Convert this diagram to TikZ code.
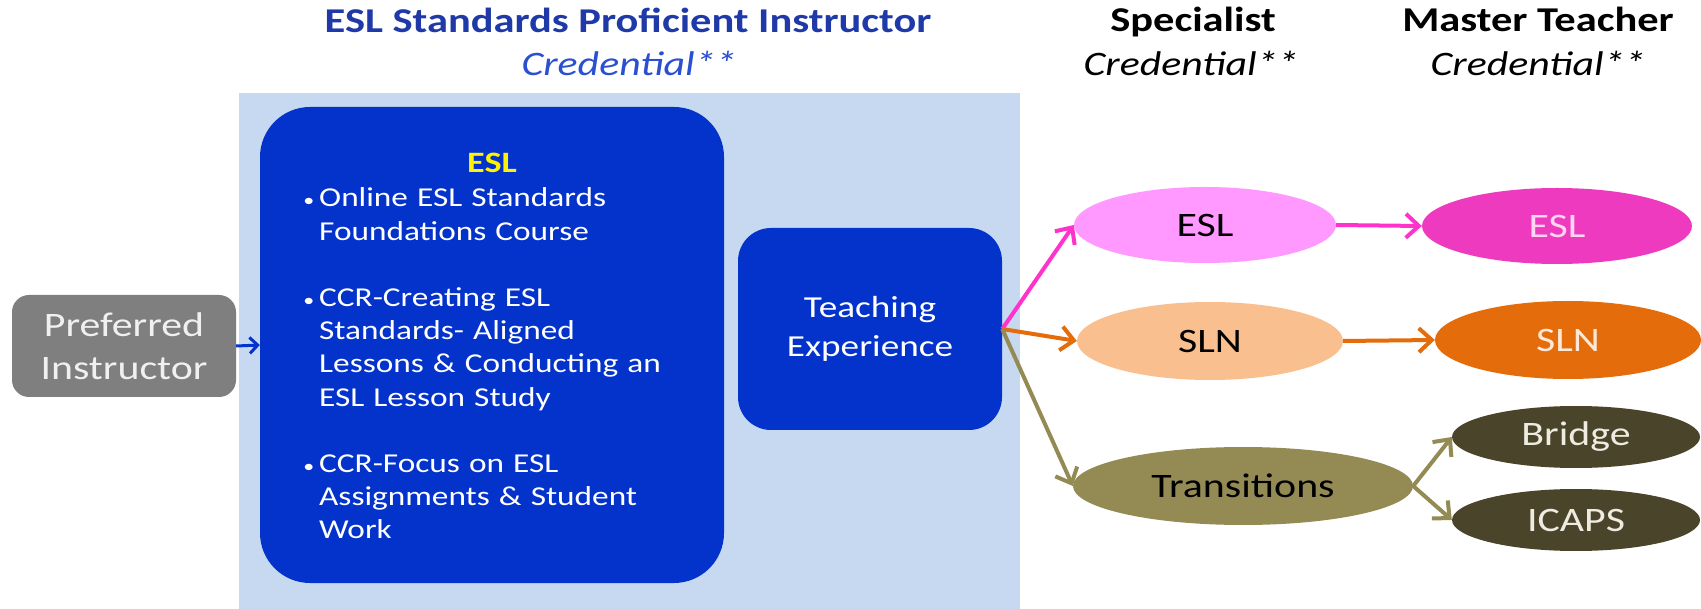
\documentclass[tikz,border=0pt]{standalone}
\usepackage{fontspec}
\setmainfont{Carlito}[FakeStretch=1.22]
\usetikzlibrary{shapes.geometric,arrows.meta}
\definecolor{lightbg}{HTML}{C6D9F1}
\definecolor{boxblue}{HTML}{0433CB}
\definecolor{titleblue}{HTML}{1F3AA8}
\definecolor{credblue}{HTML}{2A4FD0}
\definecolor{greybox}{HTML}{7F7F7F}
\definecolor{pinkl}{HTML}{FF99FF}
\definecolor{pinkd}{HTML}{EE3ABF}
\definecolor{peach}{HTML}{F9BF8F}
\definecolor{orangeD}{HTML}{E46C0A}
\definecolor{olive}{HTML}{948A54}
\definecolor{oliveD}{HTML}{4A452A}
\definecolor{pinkarrow}{HTML}{FF33CC}
\definecolor{pinktext}{HTML}{FFD6F2}
\definecolor{peachtext}{HTML}{FDE9D9}
\definecolor{tantext}{HTML}{EEECE1}
\begin{document}
\begin{tikzpicture}[x=1pt,y=-1pt,
  rbox/.style={inner sep=0pt, fill=boxblue},
  ell/.style={ellipse, inner sep=0pt, font=\fontsize{34.3}{34.3}\selectfont},
  hdr/.style={anchor=base, font=\bfseries\fontsize{34.8}{34.8}\selectfont},
  cred/.style={anchor=base, font=\itshape\fontsize{34.3}{34.3}\selectfont},
  arr/.style={line width=4pt, -{Straight Barb[length=13pt,width=24pt]}},
  barrow/.style={line width=3pt, boxblue, -{Straight Barb[length=8pt,width=16pt]}}
]
\useasboundingbox (0,0) rectangle (1701,609);
\fill[white] (0,0) rectangle (1701,609);
\fill[lightbg] (239,93) rectangle (1020,609);

% headers
\node[hdr, text=titleblue] (t1) at (628,33) {ESL Standards Proficient Instructor};
\node[cred, text=credblue] (c1) at (629,76) {Credential**};
\node[hdr, text=black] (t2) at (1193,32) {Specialist};
\node[cred, text=black] (c2) at (1191,76) {Credential**};
\node[hdr, text=black] (t3) at (1538,32) {Master Teacher};
\node[cred, text=black] (c3) at (1538,76) {Credential**};

% ESL box
\node[rbox, minimum width=464pt, minimum height=476pt, rounded corners=50pt] (esl) at (492,345) {};
\node[anchor=base, text=yellow, font=\bfseries\fontsize{29.6}{29.6}\selectfont] (eslh) at (492,172.5) {ESL};
\node[anchor=base west, inner sep=0pt, text width=390pt, align=left, text=white,
      font=\fontsize{27.3}{33.2}\selectfont] (items) at (319,207) {%
\makebox[0pt][r]{\fontsize{18}{18}\selectfont\textbullet\hspace{5pt}}Online ESL Standards\\
Foundations Course\\[33.2pt]
\makebox[0pt][r]{\fontsize{18}{18}\selectfont\textbullet\hspace{5pt}}CCR-Creating ESL\\
Standards- Aligned\\
Lessons \& Conducting an\\
ESL Lesson Study\\[33.2pt]
\makebox[0pt][r]{\fontsize{18}{18}\selectfont\textbullet\hspace{5pt}}CCR-Focus on ESL\\
Assignments \& Student\\
Work};

% Teaching experience
\node[rbox, minimum width=264pt, minimum height=202pt, rounded corners=33pt, text=white,
      align=center, font=\fontsize{30.5}{39}\selectfont] (teach) at (870,329) {Teaching\\Experience};

% Preferred instructor
\node[inner sep=0pt, fill=greybox, minimum width=224pt, minimum height=102pt, rounded corners=17pt,
      text=white!94!black, align=center, font=\fontsize{34.3}{43}\selectfont] (pref) at (124,346) {Preferred\\Instructor};

% ellipses
\node[ell, fill=pinkl, minimum width=262pt, minimum height=76pt, text=black] (sesl) at (1205,225) {ESL};
\node[ell, fill=pinkd, minimum width=270pt, minimum height=76pt, text=pinktext] (mesl) at (1557,226) {ESL};
\node[ell, fill=peach, minimum width=266pt, minimum height=78pt, text=black] (ssln) at (1210,341) {SLN};
\node[ell, fill=orangeD, minimum width=266pt, minimum height=78pt, text=peachtext] (msln) at (1568,340) {SLN};
\node[ell, fill=olive, minimum width=340pt, minimum height=78pt, text=black] (trans) at (1243,486) {Transitions};
\node[ell, fill=oliveD, minimum width=248pt, minimum height=62pt, text=tantext] (bridge) at (1576,437) {Bridge};
\node[ell, fill=oliveD, minimum width=248pt, minimum height=62pt, text=tantext] (icaps) at (1576,520) {ICAPS};

% connectors
\draw[barrow] (pref.east) -- (esl.west);
\draw[arr, pinkarrow] (teach.east) -- (sesl.west);
\draw[arr, orangeD] (teach.east) -- (ssln.west);
\draw[arr, olive] (teach.east) -- (trans.west);
\draw[arr, pinkarrow] (sesl.east) -- (mesl.west);
\draw[arr, orangeD] (ssln.east) -- (msln.west);
\draw[arr, olive] (trans.east) -- (bridge.west);
\draw[arr, olive] (trans.east) -- (icaps.west);
\end{tikzpicture}
\end{document}
